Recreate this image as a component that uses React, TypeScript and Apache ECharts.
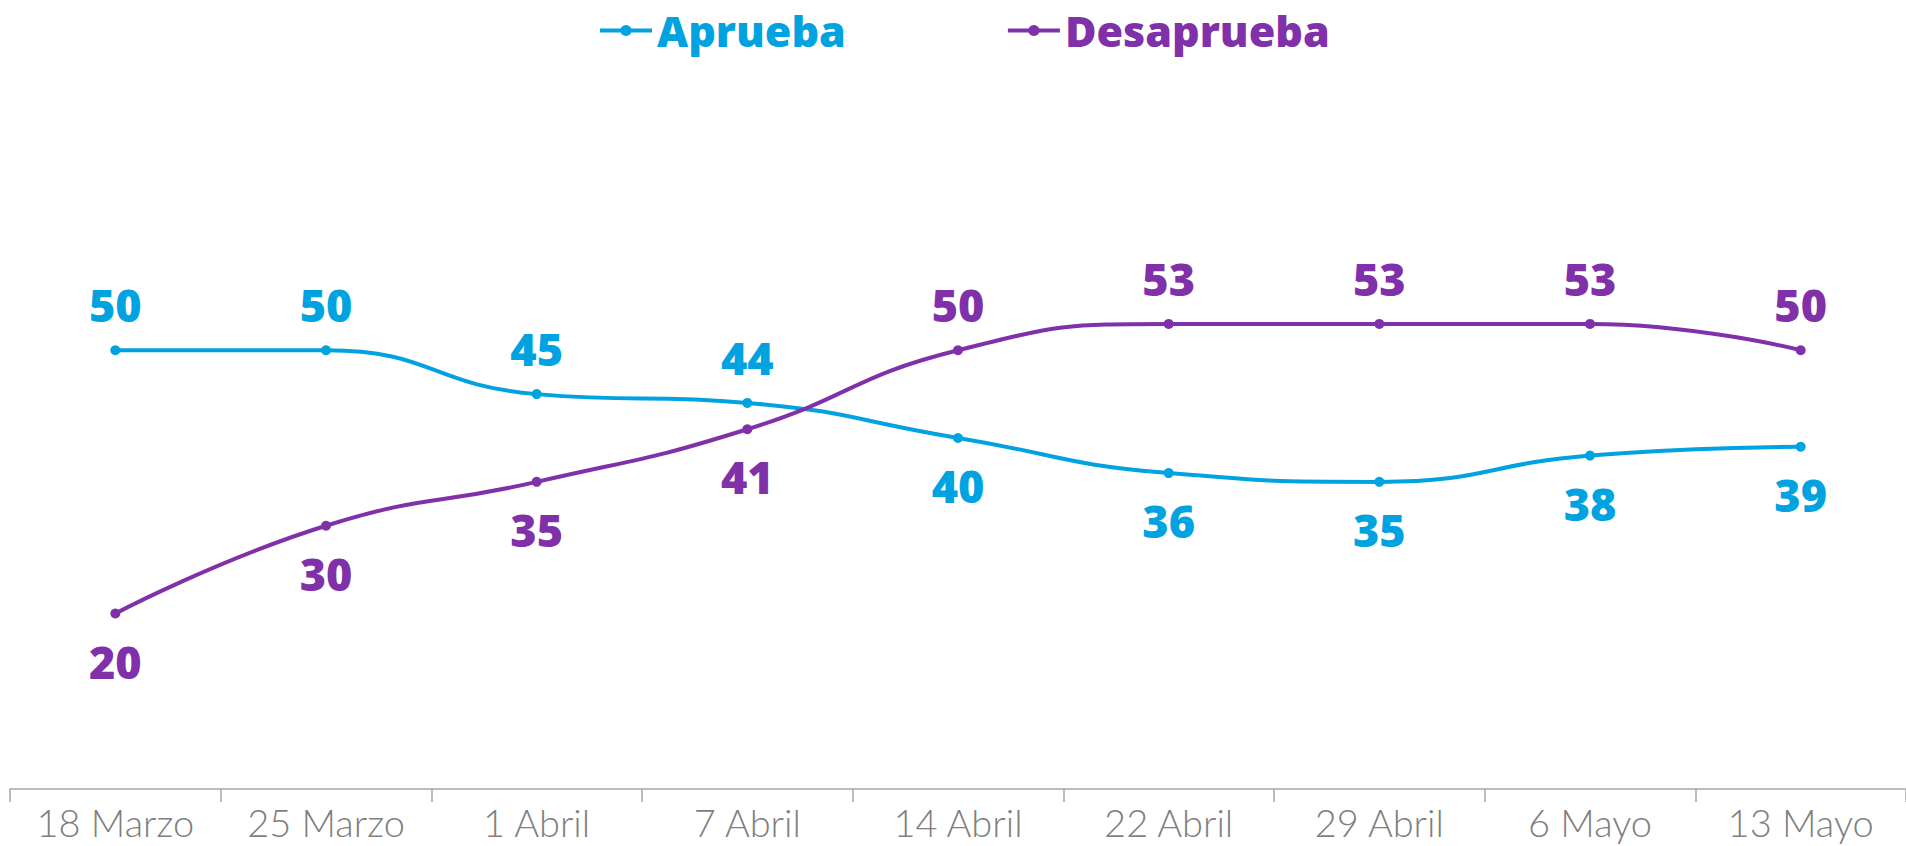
import React, { useEffect, useRef } from "react";
import * as echarts from "echarts";

const categories = ["18 Marzo", "25 Marzo", "1 Abril", "7 Abril", "14 Abril", "22 Abril", "29 Abril", "6 Mayo", "13 Mayo"];
const aprueba = [50, 50, 45, 44, 40, 36, 35, 38, 39];
const desaprueba = [20, 30, 35, 41, 50, 53, 53, 53, 50];
const apruebaLabelPos = ["top", "top", "top", "top", "bottom", "bottom", "bottom", "bottom", "bottom"];
const desapruebaLabelPos = ["bottom", "bottom", "bottom", "bottom", "top", "top", "top", "top", "top"];

const BLUE = "#00A3E0";
const PURPLE = "#8030A8";
const LABEL_FONT = "'Open Sans', 'Noto Sans', sans-serif";

function mkData(vals: number[], pos: string[]) {
  return vals.map((v, i) => ({
    value: v,
    label: { position: pos[i], distance: pos[i] === "top" ? 18 : 20 },
  }));
}

export default function App() {
  const ref = useRef<HTMLDivElement>(null);
  useEffect(() => {
    document.body.style.margin = "0";
    const chart = echarts.init(ref.current!, null, { renderer: "svg" });
    const labelStyle = (color: string) => ({
      show: true,
      color,
      fontSize: 45,
      fontWeight: 800,
      fontFamily: LABEL_FONT,
    });
    chart.setOption({
      animation: false,
      legend: {
        top: 4,
        left: 593,
        itemWidth: 52,
        itemHeight: 14,
        itemGap: 160,
        lineStyle: { width: 4 },
        textStyle: { fontSize: 43, fontWeight: 800, fontFamily: LABEL_FONT },
        data: [
          { name: "Aprueba", textStyle: { color: BLUE } },
          { name: "Desaprueba", textStyle: { color: PURPLE } },
        ],
      },
      grid: { left: 10, right: 0, top: 87, bottom: 57, containLabel: false },
      xAxis: {
        type: "category",
        data: categories,
        boundaryGap: true,
        axisLine: { lineStyle: { color: "#a6a6a6", width: 1.5 } },
        axisTick: { show: true, length: 13, lineStyle: { color: "#a6a6a6", width: 1.5 } },
        axisLabel: {
          color: "#7f7f7f",
          fontSize: 38,
          fontWeight: 300,
          fontFamily: "Lato, 'Open Sans', sans-serif",
          margin: 14,
        },
      },
      yAxis: {
        type: "value",
        min: 0,
        max: 80,
        show: false,
        splitLine: { show: false },
      },
      series: [
        {
          name: "Aprueba",
          type: "line",
          smooth: true,
          symbol: "circle",
          symbolSize: 10,
          data: mkData(aprueba, apruebaLabelPos),
          itemStyle: { color: BLUE },
          lineStyle: { color: BLUE, width: 4 },
          label: labelStyle(BLUE),
        },
        {
          name: "Desaprueba",
          type: "line",
          smooth: true,
          symbol: "circle",
          symbolSize: 10,
          data: mkData(desaprueba, desapruebaLabelPos),
          itemStyle: { color: PURPLE },
          lineStyle: { color: PURPLE, width: 4 },
          label: labelStyle(PURPLE),
        },
      ],
    });
    return () => chart.dispose();
  }, []);
  return <div ref={ref} style={{ width: 1906, height: 846 }} />;
}
